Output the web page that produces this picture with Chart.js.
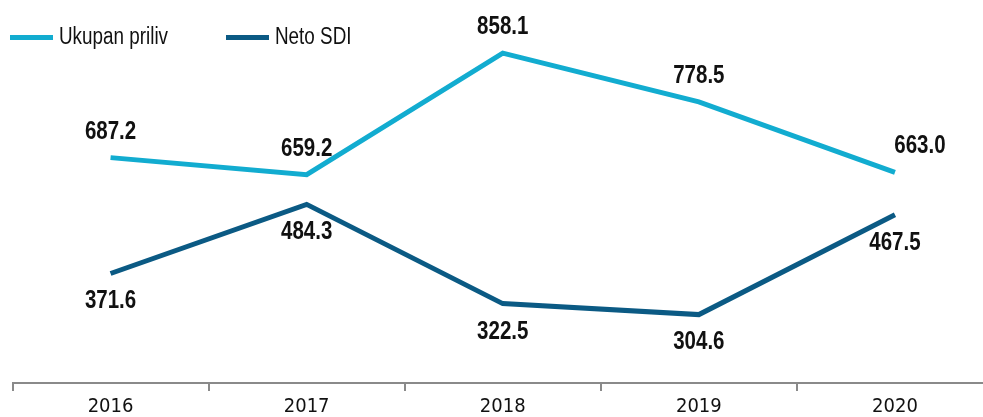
<!DOCTYPE html>
<html>
<head>
<meta charset="utf-8">
<script src="https://cdn.jsdelivr.net/npm/chart.js@4.4.0/dist/chart.umd.min.js"></script>
<style>
  html, body { margin: 0; padding: 0; background: #fff; overflow: hidden; }
  #wrap { position: absolute; left: 0; top: 0; width: 993px; height: 417px; }
</style>
</head>
<body>
<div id="wrap"><canvas id="grafica"></canvas></div>
<script>
// podaci
const godine = ['2016', '2017', '2018', '2019', '2020'];
const ukupanPriliv = [687.2, 659.2, 858.1, 778.5, 663.0];
const netoSDI = [371.6, 484.3, 322.5, 304.6, 467.5];
const nazivi = ['Ukupan priliv', 'Neto SDI'];

const SVIJETLA = '#12acd0';
const TAMNA = '#0b5a84';
const FONT = "'Liberation Sans', Arial, sans-serif";
const SUZENJE = 0.82; // uski font (sans narrow)

// tekst suzen vodoravno
function uskiTekst(ctx, txt, x, y, poravnanje) {
    ctx.save();
    ctx.translate(x, y);
    ctx.scale(SUZENJE, 1);
    ctx.textAlign = poravnanje;
    ctx.fillText(txt, 0, 0);
    ctx.restore();
}

// vrijednosti iznad / ispod linija
const oznakePlugin = {
    id: 'oznake',
    afterDatasetsDraw(chart) {
        const ctx = chart.ctx;
        ctx.save();
        ctx.font = 'bold 25px ' + FONT;
        ctx.fillStyle = '#111';
        ctx.textBaseline = 'middle';
        chart.data.datasets.forEach((ds, i) => {
            const meta = chart.getDatasetMeta(i);
            meta.data.forEach((pt, j) => {
                const dy = i === 0 ? -26 : 28;
                const dx = (i === 0 && j === ds.data.length - 1) ? 25 : 0;
                uskiTekst(ctx, ds.data[j].toFixed(1), pt.x + dx, pt.y + dy, 'center');
            });
        });
        ctx.restore();
    }
};

// legenda gore lijevo
const legendaPlugin = {
    id: 'legenda',
    afterDraw(chart) {
        const ctx = chart.ctx;
        const stavke = [{ x: 10, boja: SVIJETLA }, { x: 226, boja: TAMNA }];
        ctx.save();
        ctx.font = '23px ' + FONT;
        ctx.textBaseline = 'middle';
        stavke.forEach((s, i) => {
            ctx.fillStyle = s.boja;
            ctx.fillRect(s.x, 35, 43, 5);
            ctx.fillStyle = '#111';
            uskiTekst(ctx, chart.data.datasets[i].label, s.x + 49, 38, 'left');
        });
        ctx.restore();
    }
};

new Chart(document.getElementById('grafica'), {
    type: 'line',
    data: {
        labels: godine,
        datasets: [
            {
                label: nazivi[0],
                data: ukupanPriliv,
                borderColor: SVIJETLA,
                backgroundColor: SVIJETLA,
                borderWidth: 5,
                pointRadius: 0,
                tension: 0,
                clip: false,
                yAxisID: 'y'
            },
            {
                label: nazivi[1],
                data: netoSDI,
                borderColor: TAMNA,
                backgroundColor: TAMNA,
                borderWidth: 5,
                pointRadius: 0,
                tension: 0,
                clip: false,
                yAxisID: 'y1'
            }
        ]
    },
    options: {
        responsive: true,
        maintainAspectRatio: false,
        animation: false,
        layout: { padding: { top: 33, left: 12.5, right: 0, bottom: -6 } },
        plugins: {
            legend: { display: false },
            tooltip: { enabled: false }
        },
        scales: {
            x: {
                offset: true,
                grid: {
                    offset: true,
                    drawOnChartArea: false,
                    drawTicks: true,
                    tickLength: 8,
                    color: '#8a8a8a',
                    lineWidth: 2
                },
                border: { color: '#8a8a8a', width: 2 },
                ticks: {
                    color: '#111',
                    padding: 6,
                    maxRotation: 0,
                    font: { family: "'DejaVu Sans Condensed', 'DejaVu Sans', sans-serif", size: 20, lineHeight: 1 }
                }
            },
            y: { display: false, min: 318.6, max: 891 },
            y1: { display: false, min: 193.1, max: 763.6 }
        }
    },
    plugins: [oznakePlugin, legendaPlugin]
});
</script>
</body>
</html>
